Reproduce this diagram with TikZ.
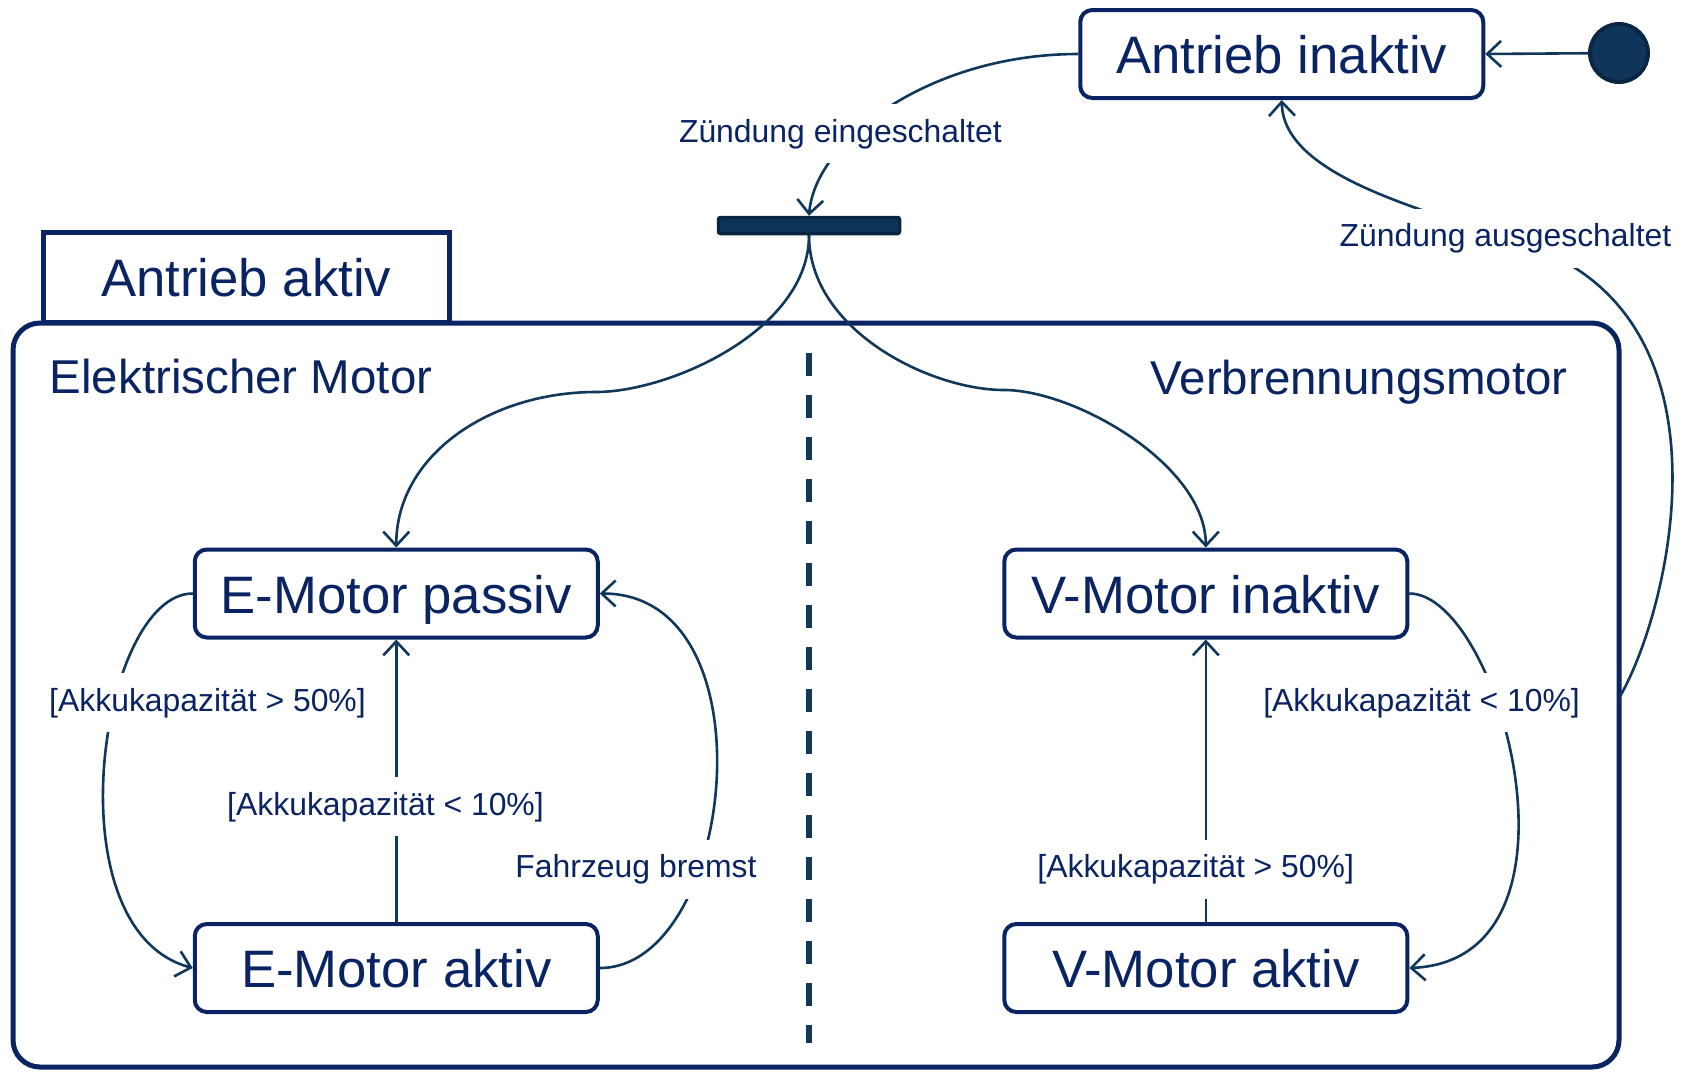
\documentclass[tikz,border=0pt]{standalone}
\usepackage{fontspec}
\setmainfont{Liberation Sans}
\usetikzlibrary{arrows.meta}
\definecolor{navy}{HTML}{0A2362}
\definecolor{wire}{HTML}{11375B}
\definecolor{barfill}{HTML}{10355A}
\definecolor{bardraw}{HTML}{0B2642}
\begin{document}
\begin{tikzpicture}[x=1pt,y=-1pt,
  bigfont/.style={font=\fontsize{52.7}{60}\selectfont},
  state/.style={draw=navy, line width=4pt, rounded corners=12pt,
    minimum width=403pt, minimum height=88pt, inner sep=0pt, text=navy,
    bigfont, text height=50pt, text depth=11pt},
  region/.style={inner sep=0pt, text=navy, font=\fontsize{47.5}{54}\selectfont},
  lbl/.style={fill=white, text=navy, font=\fontsize{31.9}{38}\selectfont,
    text height=24pt, text depth=7pt, inner xsep=3pt, inner ysep=14pt},
  wire/.style={draw=wire, line width=2.6pt,
    -{Straight Barb[length=14pt,width=26pt]}},
  divider/.style={draw=wire, line width=6pt, dash pattern=on 23pt off 19pt},
  bar/.style={fill=barfill, draw=bardraw, line width=3.5pt, rounded corners=2pt,
    minimum width=181pt, minimum height=16pt, inner sep=0pt},
  startdot/.style={circle, fill=barfill, draw=bardraw, line width=4pt,
    minimum size=58pt, inner sep=0pt}]
\useasboundingbox (0,0) rectangle (1686,1071);

% composite state: tab and rounded frame
\node[draw=navy, line width=4.5pt, minimum width=406pt, minimum height=90pt,
  inner sep=0pt, text=navy, bigfont] (tab) at (246.25,277.5) {Antrieb aktiv};
\node[draw=navy, line width=5pt, rounded corners=27pt, minimum width=1606pt,
  minimum height=744pt, inner sep=0pt] (frame) at (816,695) {};
\coordinate (fr) at (1619,698);

% concurrent regions
\node[region, anchor=west] (elek) at (49.5,377) {Elektrischer Motor};
\node[region, anchor=base east] (verb) at (1568,394) {Verbrennungsmotor};
\draw[divider] (809,352.7) -- (809,1043);

% states
\node[state] (ainakt) at (1281.75,54) {Antrieb inaktiv};
\node[startdot] (init) at (1619,53) {};
\node[bar] (fork) at (809,225.5) {};
\node[state] (Epas) at (396.25,593.5) {E-Motor passiv};
\node[state] (Eakt) at (396.25,968) {E-Motor aktiv};
\node[state] (Vin) at (1205.8,593.5) {V-Motor inaktiv};
\node[state] (Vakt) at (1205.8,968) {V-Motor aktiv};

% transitions
\draw[wire] (init) -- (ainakt.east);
\draw[wire] (ainakt.west) .. controls (930,54) and (815,140) .. (fork.north);
\draw[wire] (fork.south) .. controls (809,330) and (670,392) .. (596,392)
  .. controls (490,392) and (396.25,455) .. (Epas.north);
\draw[wire] (fork.south) .. controls (809,330) and (930,390) .. (1004,390)
  .. controls (1075,390) and (1205.8,465) .. (Vin.north);
\draw[wire] (Eakt.north) -- (Epas.south);
\draw[wire] (Vakt.north) -- (Vin.south);
\draw[wire] (Epas.west) .. controls (100,593.5) and (50,930) .. (Eakt.west);
\draw[wire] (Eakt.east) .. controls (735,968) and (775,593.5) .. (Epas.east);
\draw[wire] (Vin.east) .. controls (1500,593.5) and (1600,960) .. (Vakt.east);
\draw[wire] (fr) .. controls (1668,616) and (1742,322) .. (1530,246)
  .. controls (1435,212) and (1283,179) .. (ainakt.south);

% transition labels
\node[lbl] (lzein) at (840.4,133.5) {Zündung eingeschaltet};
\node[lbl] (lzaus) at (1505.5,238) {Zündung ausgeschaltet};
\node[lbl] (lEl) at (207.5,702.5) {[Akkukapazität > 50\%]};
\node[lbl] (lEm) at (385.5,806.5) {[Akkukapazität < 10\%]};
\node[lbl] (lFb) at (636,869) {Fahrzeug bremst};
\node[lbl] (lVr) at (1421.5,702.5) {[Akkukapazität < 10\%]};
\node[lbl] (lVm) at (1195.7,869) {[Akkukapazität > 50\%]};
\end{tikzpicture}
\end{document}
